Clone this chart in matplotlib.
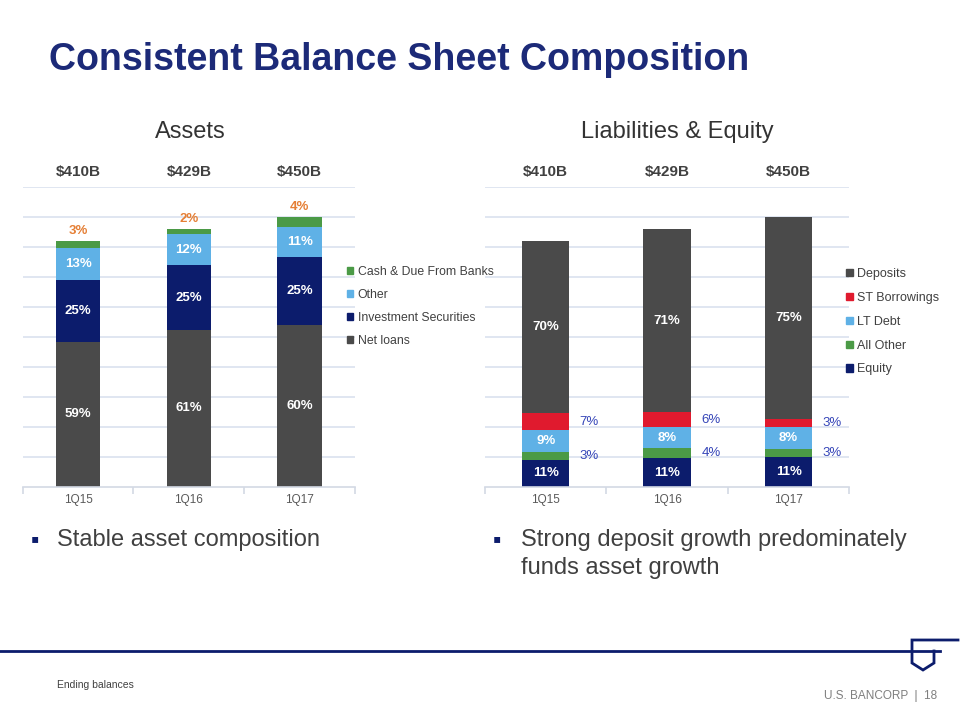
import numpy as np
import matplotlib
matplotlib.use('Agg')
import matplotlib.pyplot as plt
from matplotlib.lines import Line2D
from matplotlib.patches import Patch

plt.rcParams['font.family'] = ['Liberation Sans', 'DejaVu Sans']

# データ
quarters = ['1Q15', '1Q16', '1Q17']
totals = [410, 429, 450]
total_labels = ['$410B', '$429B', '$450B']

# Assets (%)
net_loans = [59, 61, 60]
inv_sec = [25, 25, 25]
other_assets = [13, 12, 11]
cash = [3, 2, 4]

# Liabilities & Equity (%)
equity = [11, 11, 11]
all_other = [3, 4, 3]
lt_debt = [9, 8, 8]
st_borrow = [7, 6, 3]
deposits = [70, 71, 75]

DARK = '#4a4a4a'
NAVY = '#0c1c6c'
LBLUE = '#5fb1e6'
GREEN = '#4b9a46'
RED = '#e01a2e'
TXT = '#404040'

W, H = 960, 720
fig = plt.figure(figsize=(W / 100, H / 100), dpi=100)


def fx(x):
    return x / W


def fy(y):
    return 1 - y / H


def make_axes(x0, x1):
    ax = fig.add_axes([fx(x0), fy(486.7), fx(x1) - fx(x0), 300 / H])
    ax.set_facecolor('none')
    ax.set_ylim(0, 500)
    ax.set_xlim(-0.5, 2.5)
    for v in range(50, 501, 50):
        ax.axhline(v, color='#e0e6f1', lw=1.4, zorder=0)
    for s in ['top', 'right', 'left']:
        ax.spines[s].set_visible(False)
    ax.spines['bottom'].set_color('#d3d9e4')
    ax.spines['bottom'].set_linewidth(1.2)
    ax.set_yticks([])
    ax.set_xticks(range(3))
    ax.set_xticklabels(quarters, fontsize=8.5, color='#595959')
    ax.tick_params(axis='x', which='major', length=0, pad=5)
    ax.set_xticks([-0.5, 0.5, 1.5, 2.5], minor=True)
    ax.tick_params(axis='x', which='minor', length=5, color='#d3d9e4', width=1.2)
    for i, t in enumerate(total_labels):
        ax.text(i, 1.05, t, transform=ax.get_xaxis_transform(), ha='center', va='center',
                fontsize=11, fontweight='bold', color=TXT)
    return ax


def stack(ax, series, colors, width, inside):
    x = np.arange(3)
    bottom = np.zeros(3)
    tops = []
    for k, (pct, col) in enumerate(zip(series, colors)):
        vals = np.array(pct) / 100 * np.array(totals)
        ax.bar(x, vals, width, bottom=bottom, color=col, zorder=2)
        if k in inside:
            for i in range(3):
                ax.text(i, bottom[i] + vals[i] / 2, f'{pct[i]}%', ha='center', va='center',
                        color='white', fontsize=9.5, fontweight='bold', zorder=3)
        tops.append((bottom.copy(), vals))
        bottom = bottom + vals
    return tops


leg_kw = dict(loc='center left', frameon=False, handlelength=0.5, handleheight=0.5,
              handletextpad=0.35, labelcolor=TXT, borderaxespad=0)

# Liabilities & Equity (drawn first so the Assets legend sits on top)
ax2 = make_axes(485, 849.3)
s2 = stack(ax2, [equity, all_other, lt_debt, st_borrow, deposits],
           [NAVY, GREEN, LBLUE, RED, DARK], 0.39, [0, 2, 4])
for k, pct in [(1, all_other), (3, st_borrow)]:
    b, v = s2[k]
    for i in range(3):
        ax2.text(i + 0.36, b[i] + v[i] / 2, f'{pct[i]}%', ha='center', va='center',
                 color='#3444b8', fontsize=9.5)
h2 = [Patch(color=c) for c in [DARK, RED, LBLUE, GREEN, NAVY]]
ax2.legend(h2, ['Deposits', 'ST Borrowings', 'LT Debt', 'All Other', 'Equity'],
           bbox_to_anchor=(0.978, 0.55), fontsize=9, labelspacing=0.95, **leg_kw)

# Assets
ax1 = make_axes(22.7, 355)
s1 = stack(ax1, [net_loans, inv_sec, other_assets, cash], [DARK, NAVY, LBLUE, GREEN], 0.4, [0, 1, 2])
b, v = s1[3]
for i in range(3):
    ax1.annotate(f'{cash[i]}%', (i, b[i] + v[i]), xytext=(0, 3), textcoords='offset points',
                 ha='center', va='bottom', color='#e57f35', fontsize=9.5, fontweight='bold')
h1 = [Patch(color=c) for c in [GREEN, LBLUE, NAVY, DARK]]
ax1.legend(h1, ['Cash & Due From Banks', 'Other', 'Investment Securities', 'Net loans'],
           bbox_to_anchor=(0.962, 0.60), fontsize=8.8, labelspacing=0.9, **leg_kw)

# タイトル等
fig.text(fx(49), fy(60), 'Consistent Balance Sheet Composition', fontsize=27,
         fontweight='bold', color='#1c2a78', va='center')
fig.text(fx(190), fy(132), 'Assets', fontsize=17, color='#333333', ha='center', va='center')
fig.text(fx(677), fy(132), 'Liabilities & Equity', fontsize=17, color='#333333',
         ha='center', va='center')

fig.text(fx(31), fy(540), '\u25aa', fontsize=17, color=NAVY, va='center')
fig.text(fx(57), fy(540), 'Stable asset composition', fontsize=17, color=TXT, va='center')
fig.text(fx(493), fy(540), '\u25aa', fontsize=17, color=NAVY, va='center')
fig.text(fx(521), fy(540), 'Strong deposit growth predominately', fontsize=17, color=TXT,
         va='center')
fig.text(fx(521), fy(568), 'funds asset growth', fontsize=17, color=TXT, va='center')

# フッター
fig.add_artist(Line2D([fx(0), fx(940)], [fy(651), fy(651)], color=NAVY, lw=2))
logo_x = [fx(x) for x in [958, 912, 912, 923, 934, 934]]
logo_y = [fy(y) for y in [640, 640, 663, 670, 663, 651]]
fig.add_artist(Line2D(logo_x, logo_y, color=NAVY, lw=2, solid_joinstyle='miter'))
fig.text(fx(57), fy(685), 'Ending balances', fontsize=7.5, color=TXT, va='center')
fig.text(fx(937), fy(696), 'U.S. BANCORP  |  18', fontsize=8.5, color='#7f7f7f',
         ha='right', va='center')

fig.savefig('out.png', dpi=100)
